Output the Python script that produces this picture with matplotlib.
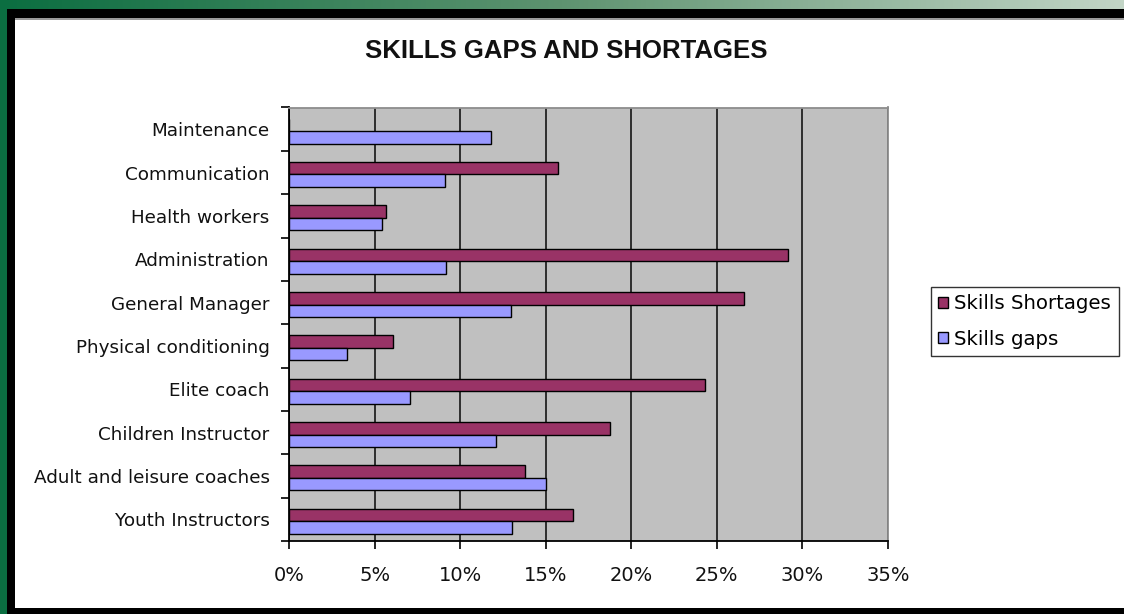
import numpy as np
import matplotlib
matplotlib.use("Agg")
import matplotlib.pyplot as plt
from matplotlib.patches import Rectangle
from matplotlib.ticker import PercentFormatter, FixedLocator
from matplotlib.colors import LinearSegmentedColormap

categories = ["Maintenance", "Communication", "Health workers", "Administration",
              "General Manager", "Physical conditioning", "Elite coach",
              "Children Instructor", "Adult and leisure coaches", "Youth Instructors"]
skills_shortages = [0.0, 15.7, 5.65, 29.15, 26.6, 6.1, 24.3, 18.75, 13.8, 16.6]
skills_gaps = [11.8, 9.1, 5.45, 9.15, 12.95, 3.4, 7.05, 12.1, 15.0, 13.05]
xticks = [0, 5, 10, 15, 20, 25, 30, 35]

W, H = 1124, 614
fig = plt.figure(figsize=(W / 100, H / 100), dpi=100)
fig.patch.set_facecolor("white")

def px_rect(x0, y0, x1, y1, color, z=0):
    fig.patches.append(Rectangle((x0 / W, 1 - y1 / H), (x1 - x0) / W, (y1 - y0) / H,
                                 transform=fig.transFigure, facecolor=color,
                                 edgecolor="none", zorder=z))

# frame
px_rect(0, 0, 7, H, "#0B6E41")
px_rect(7, 9, W, 18, "black")
px_rect(7, 9, 15, H, "black")
px_rect(7, 608, W, H, "black")
px_rect(15, 18, W, 19.5, "#9A9A9A")
gax = fig.add_axes([0, 1 - 9 / H, 1, 9 / H])
grad = np.linspace(0, 1, 512)[None, :]
cm = LinearSegmentedColormap.from_list("g", ["#0B6E41", "#5E9370", "#C2D5C6"])
gax.imshow(grad, aspect="auto", cmap=cm, extent=[0, 1, 0, 1])
gax.axis("off")

# main axes
x0, x1, ytop, ybot = 289, 888, 107.5, 541
ax = fig.add_axes([x0 / W, 1 - ybot / H, (x1 - x0) / W, (ybot - ytop) / H])
ax.set_facecolor("#C0C0C0")

n = len(categories)
pos = np.arange(n)[::-1].astype(float)
h = 0.289
off = -0.045
ax.barh(pos + off + h / 2, skills_shortages, height=h, color="#993366",
        edgecolor="black", linewidth=1.0, label="Skills Shortages", zorder=3)
ax.barh(pos + off - h / 2, skills_gaps, height=h, color="#9999FF",
        edgecolor="black", linewidth=1.0, label="Skills gaps", zorder=3)

ax.set_xlim(0, 35)
ax.set_ylim(-0.5, n - 0.5)
ax.set_xticks(xticks)
ax.xaxis.set_major_formatter(PercentFormatter(decimals=0))
ax.set_yticks(pos)
ax.set_yticklabels(categories)
ax.yaxis.set_minor_locator(FixedLocator(np.arange(-0.5, n, 1.0)))
ax.tick_params(axis="y", which="major", length=0, pad=14, labelsize=13.2, colors="black")
ax.tick_params(axis="y", which="minor", length=6, width=1.2, color="black")
ax.tick_params(axis="x", which="major", length=6, width=1.2, pad=12, labelsize=14)
for t in ax.get_xticklabels() + ax.get_yticklabels():
    t.set_color("#111111")

ax.grid(axis="x", color="#222222", linewidth=1.3, zorder=1)
ax.set_axisbelow(True)
for s in ["left", "bottom"]:
    ax.spines[s].set_color("black")
    ax.spines[s].set_linewidth(1.3)
for s in ["top", "right"]:
    ax.spines[s].set_color("#8C8C8C")
    ax.spines[s].set_linewidth(1.3)

fig.text(566 / W, 1 - 51 / H, "SKILLS GAPS AND SHORTAGES", ha="center", va="center",
         fontsize=18.5, fontweight="bold", family="Liberation Sans", color="#111111")

leg = fig.legend(loc="upper left", bbox_to_anchor=(931 / W, 1 - 287 / H),
                 fontsize=14.2, frameon=True, fancybox=False, shadow=False,
                 handlelength=0.5, handleheight=0.5, handletextpad=0.3,
                 borderpad=0.38, labelspacing=0.82, borderaxespad=0)
leg.get_frame().set_edgecolor("black")
leg.get_frame().set_linewidth(1.0)

fig.savefig("out.png", dpi=100)
